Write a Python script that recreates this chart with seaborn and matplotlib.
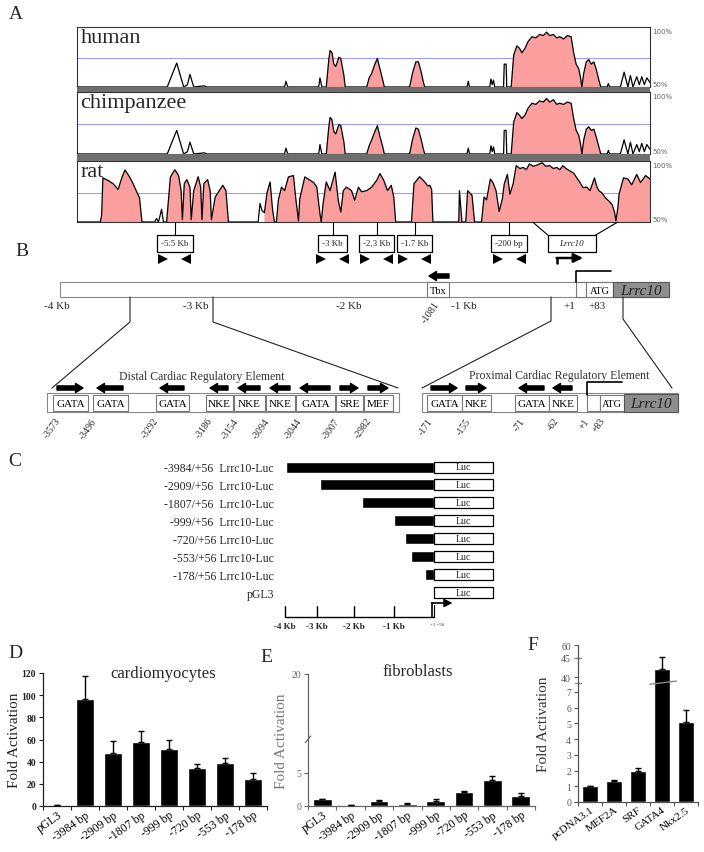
import numpy as np
import matplotlib
matplotlib.use("Agg")
import matplotlib.pyplot as plt
import seaborn as sns
from matplotlib.patches import Rectangle

sns.set_theme(style="white")
plt.rcParams["font.family"] = ["Liberation Serif", "DejaVu Serif"]
plt.rcParams["axes.unicode_minus"] = False

# ---------------- DATA ----------------
# Panel A: VISTA conservation profiles (position in Kb relative to TSS, % identity)
human_points = [(-7.05, 50), (-5.62, 50), (-5.47, 71), (-5.36, 50), (-5.30, 52), (-5.26, 61), (-5.20, 50),
                (-5.03, 51), (-5.00, 50), (-3.76, 50), (-3.74, 55), (-3.71, 50), (-3.22, 50), (-3.20, 58),
                (-3.17, 50), (-3.10, 50), (-3.06, 74), (-3.04, 82), (-3.01, 80), (-2.98, 70), (-2.95, 68),
                (-2.90, 76), (-2.87, 75), (-2.82, 60), (-2.80, 50), (-2.46, 50), (-2.42, 58), (-2.38, 62),
                (-2.33, 70), (-2.29, 75), (-2.25, 66), (-2.20, 55), (-2.18, 50), (-1.78, 50), (-1.73, 63),
                (-1.68, 72), (-1.64, 72), (-1.60, 64), (-1.56, 54), (-1.54, 50), (-0.87, 50), (-0.85, 55),
                (-0.83, 50), (-0.51, 50), (-0.49, 57), (-0.47, 52), (-0.45, 56), (-0.43, 50), (-0.29, 50),
                (-0.28, 70), (-0.25, 70), (-0.24, 50), (-0.17, 50), (-0.13, 78), (-0.08, 86), (-0.04, 84),
                (0.00, 80), (0.05, 84), (0.10, 90), (0.16, 94), (0.22, 93), (0.28, 96), (0.34, 95),
                (0.39, 98), (0.44, 95), (0.50, 96), (0.55, 93), (0.60, 94), (0.66, 92), (0.72, 95),
                (0.78, 94), (0.82, 80), (0.86, 70), (0.90, 66), (0.93, 58), (0.95, 50), (0.98, 62),
                (1.02, 72), (1.06, 74), (1.10, 70), (1.14, 72), (1.18, 65), (1.22, 56), (1.25, 50),
                (1.35, 50), (1.37, 53), (1.39, 50), (1.56, 50), (1.62, 63), (1.68, 50), (1.72, 60),
                (1.76, 50), (1.82, 59), (1.86, 52), (1.90, 59), (1.94, 52), (1.98, 58), (2.03, 54)]
chimp_points = [(-7.05, 50), (-5.62, 50), (-5.47, 70), (-5.36, 50), (-5.30, 52), (-5.26, 60), (-5.20, 50),
                (-5.03, 51), (-5.00, 50), (-3.76, 50), (-3.74, 55), (-3.71, 50), (-3.22, 50), (-3.20, 58),
                (-3.17, 50), (-3.10, 50), (-3.06, 73), (-3.04, 81), (-3.01, 79), (-2.98, 69), (-2.95, 67),
                (-2.90, 75), (-2.87, 74), (-2.82, 60), (-2.80, 50), (-2.46, 50), (-2.42, 57), (-2.38, 62),
                (-2.33, 69), (-2.29, 74), (-2.25, 65), (-2.20, 55), (-2.18, 50), (-1.78, 50), (-1.73, 63),
                (-1.68, 72), (-1.64, 71), (-1.60, 63), (-1.56, 54), (-1.54, 50), (-0.87, 50), (-0.85, 55),
                (-0.83, 50), (-0.51, 50), (-0.49, 57), (-0.47, 52), (-0.45, 56), (-0.43, 50), (-0.29, 50),
                (-0.28, 70), (-0.25, 70), (-0.24, 50), (-0.17, 50), (-0.13, 77), (-0.08, 85), (-0.04, 83),
                (0.00, 80), (0.05, 83), (0.10, 89), (0.16, 93), (0.22, 92), (0.28, 95), (0.34, 94),
                (0.39, 97), (0.44, 94), (0.50, 96), (0.55, 92), (0.60, 93), (0.66, 92), (0.72, 94),
                (0.78, 93), (0.82, 80), (0.86, 70), (0.90, 66), (0.93, 58), (0.95, 50), (0.98, 62),
                (1.02, 71), (1.06, 73), (1.10, 70), (1.14, 71), (1.18, 64), (1.22, 56), (1.25, 50),
                (1.35, 50), (1.37, 53), (1.39, 50), (1.56, 50), (1.62, 62), (1.68, 50), (1.72, 60),
                (1.76, 50), (1.82, 58), (1.86, 52), (1.90, 59), (1.94, 52), (1.98, 58), (2.03, 54)]
rat_points = [(-7.05, 50), (-6.68, 50), (-6.66, 56), (-6.64, 88), (-6.55, 85.5), (-6.47, 82.6), (-6.40, 78),
              (-6.34, 88), (-6.29, 94.8), (-6.23, 90), (-6.17, 84), (-6.11, 76.7), (-6.06, 71), (-6.02, 50),
              (-5.82, 50), (-5.79, 53), (-5.76, 50), (-5.74, 54), (-5.71, 61), (-5.68, 50),
              (-5.63, 50), (-5.57, 88.8), (-5.50, 95), (-5.44, 90), (-5.40, 77), (-5.38, 52), (-5.35, 83),
              (-5.31, 86.5), (-5.26, 80), (-5.24, 52), (-5.20, 77), (-5.13, 89), (-5.09, 80), (-5.07, 52),
              (-5.04, 83), (-4.98, 86.5), (-4.94, 77), (-4.92, 52), (-4.86, 71.5), (-4.74, 81.6),
              (-4.69, 77), (-4.65, 50), (-4.18, 50), (-4.15, 66), (-4.12, 60), (-4.08, 58), (-4.04, 75),
              (-3.99, 84.5), (-3.95, 60), (-3.92, 50), (-3.89, 50), (-3.86, 68.7), (-3.81, 80), (-3.76, 77),
              (-3.70, 88.8), (-3.62, 90), (-3.58, 68.7), (-3.54, 51), (-3.52, 70), (-3.44, 88.8), (-3.36, 86),
              (-3.30, 84), (-3.25, 80), (-3.20, 57), (-3.18, 50), (-3.15, 66), (-3.10, 84.5), (-3.04, 77),
              (-2.96, 93), (-2.91, 68.7), (-2.87, 58.6), (-2.83, 77), (-2.78, 80), (-2.70, 77), (-2.65, 68.7),
              (-2.59, 80), (-2.54, 76), (-2.46, 77), (-2.38, 80), (-2.30, 86), (-2.25, 91.7), (-2.19, 86),
              (-2.13, 77), (-2.07, 81.6), (-2.03, 71.5), (-2.00, 50), (-1.75, 50), (-1.71, 83), (-1.62, 89),
              (-1.54, 84.5), (-1.49, 81), (-1.46, 81.6), (-1.43, 78), (-1.41, 50), (-1.00, 50), (-0.99, 77),
              (-0.95, 50), (-0.89, 50), (-0.86, 77), (-0.79, 73), (-0.75, 50), (-0.64, 50), (-0.60, 71.5),
              (-0.56, 69), (-0.50, 87), (-0.46, 84), (-0.41, 77), (-0.36, 59), (-0.31, 70), (-0.28, 82.6),
              (-0.23, 91), (-0.19, 74), (-0.14, 82.6), (-0.09, 98.5), (-0.03, 96), (0.02, 97), (0.07, 95),
              (0.12, 100), (0.18, 98), (0.24, 99), (0.32, 101), (0.38, 98), (0.44, 98.5), (0.50, 96),
              (0.55, 97), (0.60, 95), (0.65, 98.5), (0.70, 96), (0.76, 94), (0.82, 92), (0.87, 88),
              (0.92, 84), (0.97, 79.6), (1.03, 80), (1.08, 77), (1.15, 88), (1.19, 80), (1.22, 77),
              (1.27, 75), (1.32, 71), (1.38, 68), (1.43, 65), (1.47, 58), (1.49, 51), (1.52, 62),
              (1.54, 74), (1.61, 88), (1.68, 87), (1.74, 82), (1.82, 91), (1.88, 84), (1.96, 90), (2.03, 87)]
# conserved (pink) segments, Kb
human_cns = [(-3.10, -2.80), (-2.46, -2.18), (-1.78, -1.54), (-0.17, 1.25)]
chimp_cns = [(-3.10, -2.80), (-2.46, -2.18), (-1.78, -1.54), (-0.17, 1.25)]
rat_cns = [(-6.68, -6.02), (-5.63, -4.65), (-4.10, -2.00), (-1.75, -1.41), (-1.00, -0.95),
           (-0.89, -0.75), (-0.64, 2.03)]
species = ["human", "chimpanzee", "rat"]
marker_kb = [-5.5, -3.0, -2.3, -1.7, -0.2]
marker_labels = ["-5.5 Kb", "-3 Kb", "-2.3 Kb", "-1.7 Kb", "-200 bp"]

# Panel B
b_axis_labels = ["-4 Kb", "-3 Kb", "-2 Kb", "-1 Kb", "+1", "+83"]
distal_names = ["GATA", "GATA", "GATA", "NKE", "NKE", "NKE", "GATA", "SRE", "MEF"]
distal_dir = [1, -1, -1, -1, -1, -1, -1, 1, 1]
distal_pos = ["-3573", "-3496", "-3292", "-3186", "-3154", "-3094", "-3044", "-3007", "-2982"]
prox_names = ["GATA", "NKE", "GATA", "NKE"]
prox_dir = [1, 1, -1, -1]
prox_pos = ["-171", "-155", "-71", "-62", "+1", "+83"]

# Panel C
construct_labels = ["-3984/+56  Lrrc10-Luc", "-2909/+56  Lrrc10-Luc", "-1807/+56  Lrrc10-Luc",
                    "-999/+56  Lrrc10-Luc", "-720/+56 Lrrc10-Luc", "-553/+56 Lrrc10-Luc",
                    "-178/+56 Lrrc10-Luc", "pGL3"]
construct_start = [-3984, -2909, -1807, -999, -720, -553, -178]
construct_end = 56
luc_len = 1600
c_ticks = [-4000, -3000, -2000, -1000]
c_tick_labels = ["-4 Kb", "-3 Kb", "-2 Kb", "-1 Kb"]

# Panels D/E/F
d_labels = ["pGL3", "-3984 bp", "-2909 bp", "-1807 bp", "-999 bp", "-720 bp", "-553 bp", "-178 bp"]
d_values = [1.0, 96.6, 48.0, 58.0, 51.6, 34.5, 38.7, 24.6]
d_err = [0.3, 21.0, 10.5, 9.5, 7.5, 3.5, 4.5, 5.0]
e_values = [1.0, 0.1, 0.75, 0.35, 0.8, 2.1, 3.95, 1.5]
e_err = [0.0, 0.0, 0.12, 0.1, 0.25, 0.2, 0.65, 0.4]
f_labels = ["pcDNA3.1", "MEF2A", "SRF", "GATA4", "Nkx2.5"]
f_values = [1.0, 1.35, 1.97, 42.1, 5.1]
f_err = [0.0, 0.07, 0.22, 4.5, 0.75]
f_ticks = [0, 1, 2, 3, 4, 5, 6, 7, 40, 45, 60]

# ---------------- FIGURE ----------------
W, H = 704, 853
fig = plt.figure(figsize=(W / 100, H / 100), dpi=100, facecolor="white")


def pax(x0, y0, x1, y1, **kw):
    return fig.add_axes([x0 / W, 1 - y1 / H, (x1 - x0) / W, (y1 - y0) / H], **kw)


ov = pax(0, 0, W, H, zorder=10)
ov.set_xlim(0, W)
ov.set_ylim(H, 0)
ov.axis("off")

for letter, (lx, ly) in zip("ABCDEF", [(16, 14), (22, 251), (15, 462), (15, 653), (266, 657), (533, 646)]):
    ov.text(lx, ly, letter, fontsize=14, ha="center", va="center")

# ---- Panel A ----
KB_LIM = (-7.05, 2.03)
TX0, TX1 = 77, 650
track_box = [(28, 88), (93, 155), (162, 223)]
for name, pts, cns, (top, bot) in zip(species, [human_points, chimp_points, rat_points],
                                      [human_cns, chimp_cns, rat_cns], track_box):
    ax = pax(TX0, top, TX1, bot)
    kb, pct = np.array(pts, dtype=float).T
    mask = np.zeros(len(kb), dtype=bool)
    for a, b in cns:
        mask |= (kb >= a) & (kb <= b)
    ax.axhline(75, color="#9c9cff", lw=0.8, zorder=1)
    ax.fill_between(kb, 50, pct, where=mask, color="#fa9e9e", lw=0, zorder=2)
    sns.lineplot(x=kb, y=pct, ax=ax, color="black", lw=0.9, sort=False, estimator=None, zorder=3)
    ax.set_xlim(*KB_LIM)
    ax.set_ylim(50, 102.5)
    ax.set_xticks([])
    ax.set_yticks([])
    for s in ax.spines.values():
        s.set_color("#333333")
        s.set_linewidth(0.8)
    ax.text(0.006, 0.99, name, transform=ax.transAxes, ha="left", va="top", fontsize=16)
    ov.text(652, top + 4, "100%", fontsize=5, color="#666666", family="DejaVu Sans", va="center")
    ov.text(652, bot - 3, "50%", fontsize=5, color="#666666", family="DejaVu Sans", va="center")

ov.add_patch(Rectangle((TX0, 88), TX1 - TX0, 5, fc="#6e6e6e", ec="none"))
ov.add_patch(Rectangle((TX0, 155), TX1 - TX0, 7, fc="#6e6e6e", ec="none"))

aa = pax(TX0, 223, TX1, 282)
aa.set_xlim(*KB_LIM)
aa.set_ylim(282, 223)
aa.axis("off")
for kb, lab in zip(marker_kb, marker_labels):
    aa.plot([kb, kb], [223, 236], color="black", lw=0.8)
    aa.text(kb, 244.5, lab, ha="center", va="center", fontsize=6.5,
            bbox=dict(boxstyle="square,pad=0.45", fc="white", ec="black", lw=0.9))
    aa.plot([kb - 0.18], [260], marker=">", ms=6.5, color="black", mew=0)
    aa.plot([kb + 0.18], [260], marker="<", ms=6.5, color="black", mew=0)
aa.plot([0.17, 0.41], [223, 236], color="black", lw=0.8)
aa.plot([1.52, 1.17], [223, 236], color="black", lw=0.8)
aa.add_patch(Rectangle((0.41, 236), 0.76, 17, fc="white", ec="black", lw=0.9))
aa.text(0.79, 244.5, "Lrrc10", style="italic", fontsize=6.5, ha="center", va="center")
aa.plot([0.56, 0.56], [265, 259], color="black", lw=1.8, solid_capstyle="butt")
aa.annotate("", xy=(0.97, 259), xytext=(0.55, 259),
            arrowprops=dict(arrowstyle="-|>,head_width=0.22,head_length=0.45", lw=1.8,
                            color="black", shrinkA=0, shrinkB=0))


# ---- Panel B (schematic, pixel layout) ----
def box(x0, y0, x1, y1, text=None, fc="white", ec="#777777", fs=8, style="normal", lw=0.8, tc="black"):
    ov.add_patch(Rectangle((x0, y0), x1 - x0, y1 - y0, fc=fc, ec=ec, lw=lw))
    if text:
        ov.text((x0 + x1) / 2, (y0 + y1) / 2 + 0.5, text, ha="center", va="center", fontsize=fs,
                style=style, color=tc)


def thick_arrow(x0, x1, y):
    ov.annotate("", xy=(x1, y), xytext=(x0, y),
                arrowprops=dict(arrowstyle="simple,head_width=1.1,head_length=0.9,tail_width=0.5",
                                color="black", shrinkA=0, shrinkB=0, mutation_scale=6))


box(60, 283, 669, 298, ec="#888888")
box(427, 283, 449, 298, "Tbx", fs=7.5)
box(576, 283, 586, 298)
box(586, 283, 613, 298, "ATG", fs=7.5)
box(613, 283, 669, 298, "Lrrc10", fc="#8e8e8e", ec="#555555", fs=11, style="italic", tc="#222222")
ov.plot([576, 576, 611], [283, 272, 272], color="black", lw=1.2)
thick_arrow(449, 429, 277)
for lab, x in zip(b_axis_labels, [57, 196, 349, 464, 569, 597]):
    ov.text(x, 306, lab, ha="center", va="center", fontsize=8)
ov.text(434, 300, "-1081", rotation=55, ha="right", va="top", rotation_mode="anchor", fontsize=7.5)
for pts in [[(130, 298), (130, 323), (52, 389)], [(213, 298), (213, 323), (398, 389)],
            [(551, 298), (551, 322), (422, 389)], [(623, 298), (623, 320), (672, 389)]]:
    xs, ys = zip(*pts)
    ov.plot(xs, ys, color="#222222", lw=0.8)

ov.text(202, 377, "Distal Cardiac Regulatory Element", ha="center", va="center", fontsize=8.5, color="#333333")
ov.text(559, 376, "Proximal Cardiac Regulatory Element", ha="center", va="center", fontsize=8.5, color="#333333")
box(47, 394, 399, 413, ec="#888888")
distal_x = [(53, 88), (93, 128), (156, 189), (206, 233), (234, 265), (266, 295), (296, 335), (336, 363), (364, 393)]
for nm, (x0, x1), d in zip(distal_names, distal_x, distal_dir):
    box(x0, 396, x1, 412, nm, fs=8)
    if d > 0:
        thick_arrow(x0 + 4, x1 - 5, 389)
    else:
        thick_arrow(x1 - 5, x0 + 4, 389)
for lab, x in zip(distal_pos, [55, 91, 153, 207, 233, 264, 296, 334, 366]):
    ov.text(x, 417, lab, rotation=55, ha="right", va="top", rotation_mode="anchor", fontsize=7)

box(422, 394, 678, 413, ec="#888888")
prox_x = [(427, 462), (462, 491), (515, 549), (549, 577)]
for nm, (x0, x1), d in zip(prox_names, prox_x, prox_dir):
    box(x0, 396, x1, 412, nm, fs=8)
    if d > 0:
        thick_arrow(x0 + 4, x1 - 5, 389)
    else:
        thick_arrow(x1 - 5, x0 + 4, 389)
box(587, 396, 600, 412)
box(600, 396, 624, 412, "ATG", fs=7.5)
box(624, 395, 678, 413, "Lrrc10", fc="#8e8e8e", ec="#555555", fs=11, style="italic", tc="#222222")
ov.plot([587, 587, 622], [396, 383, 383], color="black", lw=1.2)
for lab, x in zip(prox_pos, [427, 465, 519, 553, 584, 599]):
    ov.text(x, 417, lab, rotation=55, ha="right", va="top", rotation_mode="anchor", fontsize=7)

# ---- Panel C (schematic bp axis, drawn not to scale like the original) ----
c_knots_bp = [-4062.5, -4000, -3000, -2000, -1000, 0, 56, 1656, 1710]
c_knots_px = [283, 285, 317, 354, 394, 432, 434, 493, 495]
cax = pax(283, 455, 495, 640)
cax.set_xscale("function", functions=(lambda v: np.interp(v, c_knots_bp, c_knots_px),
                                      lambda p: np.interp(p, c_knots_px, c_knots_bp)))
cax.set_xlim(-4062.5, 1710)
cax.set_ylim(640, 455)
rows = 468 + 17.9 * np.arange(len(construct_labels))
cax.barh(rows[:len(construct_start)], [construct_end - s for s in construct_start], left=construct_start,
         height=11, color="black")
cax.barh(rows, [luc_len] * len(rows), left=construct_end, height=11, color="white", edgecolor="black",
         lw=0.9, clip_on=False)
for r in rows:
    cax.text(construct_end + luc_len / 2, r, "Luc", ha="center", va="center", fontsize=7)
cax.set_yticks(rows)
cax.set_yticklabels(construct_labels, fontsize=8.5)
cax.tick_params(axis="y", length=0, pad=6.5)
cax.set_xticks([])
cax.minorticks_off()
for s in cax.spines.values():
    s.set_visible(False)
cax.plot([-3984, construct_end], [618, 618], color="black", lw=1)
for t, lab in zip(c_ticks, c_tick_labels):
    cax.plot([t, t], [618, 607], color="black", lw=1)
    cax.text(t, 627, lab, ha="center", va="center", fontsize=6.5, fontweight="bold")
cax.plot([construct_end, construct_end], [618, 606], color="black", lw=0.8)
cax.plot([0, 0], [618, 604], color="black", lw=1.2)
cax.annotate("", xy=(560, 604), xytext=(-10, 604),
             arrowprops=dict(arrowstyle="-|>,head_width=0.2,head_length=0.4", lw=1.2, color="black",
                             shrinkA=0, shrinkB=0))
cax.text(150, 625, "+1 +56", ha="center", va="center", fontsize=3.5)


# ---- Panels D, E, F ----
def bar_panel(ax, labels, values, errs, color_txt):
    n = len(labels)
    sns.barplot(x=labels, y=values, color="black", width=0.66, errorbar=None, saturation=1, ax=ax)
    ax.errorbar(np.arange(n), values, yerr=[np.zeros(n), errs], fmt="none", ecolor="black",
                elinewidth=1, capsize=2.5, capthick=1, zorder=3)
    ax.set_xlim(-0.5, n - 0.5)
    ax.set_xticks(np.arange(n), labels, rotation=35, ha="right", rotation_mode="anchor")
    ax.set_xticks(np.arange(-0.5, n), minor=True)
    ax.tick_params(axis="x", which="major", length=0, pad=2, labelsize=8.5)
    ax.tick_params(axis="x", which="minor", bottom=True, length=3, width=0.8, color=color_txt)
    ax.tick_params(axis="y", left=True, length=3, width=0.8, pad=2, labelsize=7, colors=color_txt,
                   direction="out")
    for side in ["top", "right"]:
        ax.spines[side].set_visible(False)
    for side in ["left", "bottom"]:
        ax.spines[side].set_color(color_txt)
        ax.spines[side].set_linewidth(0.9)
    for lab in ax.get_xticklabels():
        lab.set_color("black")
    ax.set_facecolor("none")


dax = pax(43, 674, 267, 807)
bar_panel(dax, d_labels, d_values, d_err, "#222222")
dax.set_ylim(0, 120)
dax.set_yticks(np.arange(0, 121, 20))
for lab in dax.get_yticklabels():
    lab.set_fontweight("bold")
dax.set_ylabel("Fold Activation", fontsize=11, color="#222222")
dax.yaxis.set_label_coords(-0.10, 0.5)
ov.text(163, 674, "cardiomyocytes", ha="center", va="center", fontsize=12)

eax = pax(308, 675, 535, 807)
bar_panel(eax, d_labels, e_values, e_err, "#666666")
eax.set_ylim(0, 20)
eax.set_yticks([0, 5, 20])
eax.set_ylabel("Fold Activation", fontsize=11, color="#777777")
eax.yaxis.set_label_coords(-0.09, 0.5)
eax.plot([-0.012, 0.012], [0.48, 0.53], transform=eax.transAxes, clip_on=False, color="#666666", lw=0.9)
ov.text(418, 672, "fibroblasts", ha="center", va="center", fontsize=12)

fk = [0, 7, 40, 45, 60]
fp = [0, 110, 125, 144, 157]
fax = pax(578, 646, 698, 803)
bar_panel(fax, f_labels, f_values, f_err, "#555555")
fax.set_yscale("function", functions=(lambda v: np.interp(v, fk, fp), lambda p: np.interp(p, fp, fk)))
fax.set_ylim(0, 60)
fax.set_yticks(f_ticks)
fax.set_yticklabels([str(t) for t in f_ticks])
fax.tick_params(axis="x", labelsize=8)
fax.set_ylabel("Fold Activation", fontsize=11, color="#333333")
fax.yaxis.set_label_coords(-0.235, 0.5)
fax.plot([-0.62, -0.38], [27, 27], color="#888888", lw=1, clip_on=False)
fax.plot([-0.62, -0.38], [45, 45], color="#888888", lw=1, clip_on=False)
fax.plot([2.5, 3.6], [24, 31], color="#888888", lw=1, clip_on=False, zorder=4)

fig.savefig("out.png", dpi=100, facecolor="white")
